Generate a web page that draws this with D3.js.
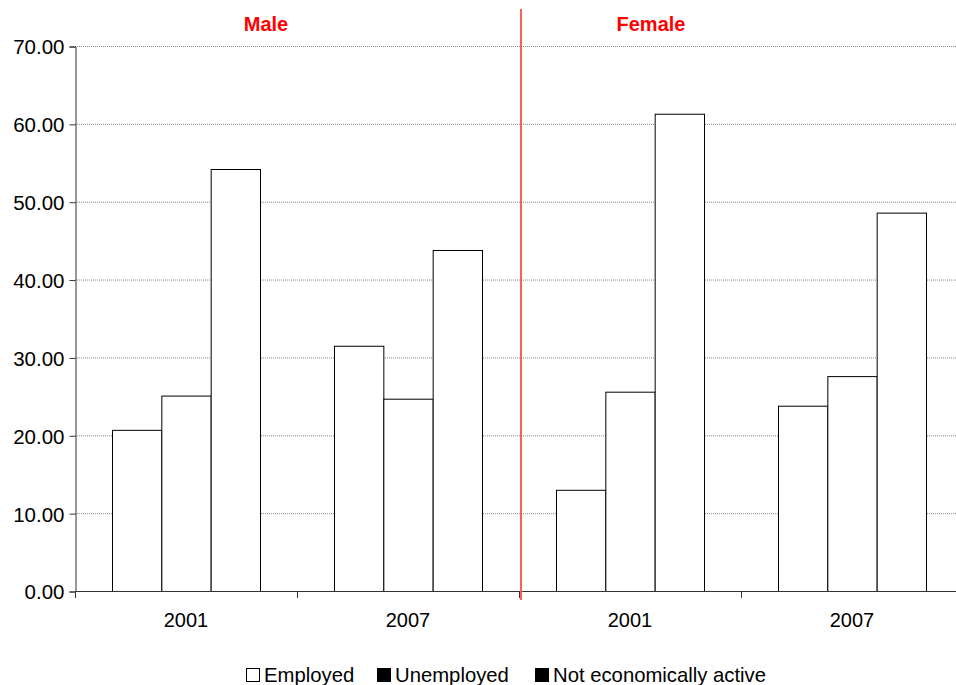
<!DOCTYPE html>
<html>
<head>
<meta charset="utf-8">
<script src="https://cdn.jsdelivr.net/npm/d3@7"></script>
<style>
  html, body { margin: 0; padding: 0; background: #fff; }
  svg { display: block; font-family: "Liberation Sans", Arial, sans-serif; }
</style>
</head>
<body>
<svg id="chart" width="956" height="685"></svg>
<script>
// Groups along the x axis (sex / year) and the three activity series
const groups = ["Male 2001", "Male 2007", "Female 2001", "Female 2007"];
const groupLabels = ["2001", "2007", "2001", "2007"];
const sexes = ["Male", "Female"];
const series = ["Employed", "Unemployed", "Not economically active"];
const legendSwatch = ["#ffffff", "#000000", "#000000"];

const employed = [20.7, 31.5, 13.0, 23.8];
const unemployed = [25.1, 24.7, 25.6, 27.6];
const notActive = [54.2, 43.8, 61.3, 48.6];

const yTicks = [0, 10, 20, 30, 40, 50, 60, 70];

const seriesValues = [employed, unemployed, notActive];
const rows = groups.map((g, i) => ({
  group: g,
  values: series.map((s, k) => ({ series: s, value: seriesValues[k][i] }))
}));

const svg = d3.select("#chart");
const plotLeft = 75, plotTop = 46, plotBottom = 591, plotRight = 963;

const x0 = d3.scaleBand().domain(groups).range([plotLeft, plotRight]).paddingInner(1 / 3).paddingOuter(1 / 6);
const x1 = d3.scaleBand().domain(series).range([0, x0.bandwidth()]);
const y = d3.scaleLinear().domain([0, 70]).range([plotBottom, plotTop]);
// width of each group slot (for the category tick marks)
const slot = (plotRight - plotLeft) / groups.length;

// horizontal gridlines
svg.append("g").selectAll("line").data(yTicks.filter(t => t > 0)).join("line")
  .attr("x1", plotLeft).attr("x2", 956)
  .attr("y1", d => y(d) + 0.5).attr("y2", d => y(d) + 0.5)
  .attr("stroke", "#8a8a8a").attr("stroke-width", 1)
  .attr("stroke-dasharray", "1,1");

// bars
const g = svg.append("g").selectAll("g").data(rows).join("g")
  .attr("transform", d => `translate(${x0(d.group)},0)`);
g.selectAll("rect").data(d => d.values).join("rect")
  .attr("x", d => x1(d.series) + 0.5)
  .attr("y", d => y(d.value) + 0.5)
  .attr("width", x1.bandwidth())
  .attr("height", d => y(0) - y(d.value))
  .attr("fill", "#fff").attr("stroke", "#000").attr("stroke-width", 1);

// y axis
const yAxis = d3.axisLeft(y).tickValues(yTicks).tickSize(6).tickPadding(5)
  .tickFormat(d3.format(".2f"));
const ya = svg.append("g").attr("transform", `translate(${plotLeft + 0.5},0.5)`).call(yAxis);
ya.attr("font-size", 20.5).attr("font-family", "Liberation Sans, Arial, sans-serif");
ya.select(".domain").attr("stroke", "#333");
ya.selectAll(".tick line").attr("stroke", "#333");
ya.selectAll("text").attr("fill", "#000").attr("dy", "0.36em");

// x axis baseline and group boundary ticks
svg.append("line").attr("x1", plotLeft).attr("x2", 956)
  .attr("y1", plotBottom + 0.5).attr("y2", plotBottom + 0.5).attr("stroke", "#333");
svg.append("g").selectAll("line").data(d3.range(groups.length + 1)).join("line")
  .attr("x1", i => plotLeft + i * slot + 0.5).attr("x2", i => plotLeft + i * slot + 0.5)
  .attr("y1", plotBottom).attr("y2", plotBottom + 7).attr("stroke", "#333");
svg.append("g").selectAll("text").data(groups).join("text")
  .attr("x", d => x0(d) + x0.bandwidth() / 2)
  .attr("y", 627)
  .attr("text-anchor", "middle").attr("font-size", 20).attr("fill", "#000")
  .text((d, i) => groupLabels[i]);

// divider between sexes
const mid = plotLeft + 2 * slot + 2;
svg.append("line").attr("x1", mid).attr("x2", mid)
  .attr("y1", 9).attr("y2", 600)
  .attr("stroke", "#ff5c5c").attr("stroke-width", 2)
  .attr("shape-rendering", "crispEdges");

// sex headings
svg.append("g").selectAll("text").data(sexes).join("text")
  .attr("x", (d, i) => i === 0 ? 266 : 651)
  .attr("y", 31)
  .attr("text-anchor", "middle").attr("font-size", 20).attr("font-weight", "bold")
  .attr("fill", "#ff0000")
  .text(d => d);

// legend
const legendX = [246, 377, 535];
const lg = svg.append("g").selectAll("g").data(series).join("g")
  .attr("transform", (d, i) => `translate(${legendX[i]},668)`);
lg.append("rect").attr("x", 0.5).attr("y", 0.5).attr("width", 13).attr("height", 13)
  .attr("fill", (d, i) => legendSwatch[i]).attr("stroke", "#000");
lg.append("text").attr("x", 18).attr("y", 14).attr("font-size", 20.3).attr("fill", "#000")
  .text(d => d);
</script>
</body>
</html>
